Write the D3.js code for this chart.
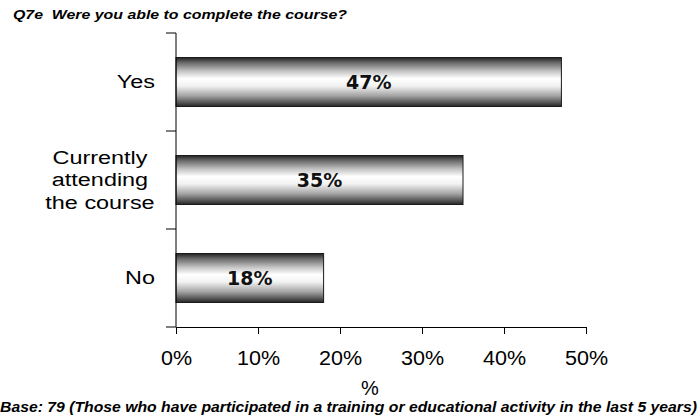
<!DOCTYPE html>
<html>
<head>
<meta charset="utf-8">
<script src="https://cdn.jsdelivr.net/npm/d3@7"></script>
<style>
  html, body { margin: 0; padding: 0; background: #fff; }
  svg { display: block; font-family: "Liberation Sans", Arial, sans-serif; }
</style>
</head>
<body>
<svg id="chart" width="700" height="419"></svg>
<script>
// Answers to Q7e, shown top to bottom
const categories = [["Yes"], ["Currently", "attending", "the course"], ["No"]];
const categoryKeys = ["Yes", "Currently attending the course", "No"];
const values = [47, 35, 18];
const tickValues = [0, 10, 20, 30, 40, 50];

const svg = d3.select("#chart");
const margin = { left: 176, right: 114, top: 33, bottom: 92 };
const W = 700, H = 419;

const x = d3.scaleLinear().domain([0, 50]).range([margin.left, W - margin.right]);
const y = d3.scaleBand().domain(categoryKeys).range([margin.top, H - margin.bottom]).paddingInner(0.5).paddingOuter(0.25);

// Widen text horizontally by factor k
function stretch(sel, k) {
  sel.each(function () {
    const w = this.getComputedTextLength();
    d3.select(this).attr("textLength", w * k).attr("lengthAdjust", "spacingAndGlyphs");
  });
}

// Metallic vertical gradient for the bars
const defs = svg.append("defs");
const grad = defs.append("linearGradient").attr("id", "barGrad")
  .attr("x1", 0).attr("y1", 0).attr("x2", 0).attr("y2", 1);
[[0, "#222222"], [0.1, "#666666"], [0.28, "#c4c4c4"], [0.43, "#ffffff"], [0.58, "#f2f2f2"], [0.78, "#a4a4a4"], [0.92, "#555555"], [1, "#262626"]]
  .forEach(([o, c]) => grad.append("stop").attr("offset", o).attr("stop-color", c));

// Title
svg.append("text").attr("x", 13).attr("y", 19)
  .attr("font-size", 12.5).attr("font-weight", "bold").attr("font-style", "italic")
  .attr("xml:space", "preserve")
  .text("Q7e  Were you able to complete the course?")
  .attr("textLength", 334).attr("lengthAdjust", "spacingAndGlyphs");

// Bars
svg.selectAll("rect.bar").data(values).join("rect")
  .attr("class", "bar")
  .attr("x", x(0))
  .attr("y", (d, i) => y(categoryKeys[i]))
  .attr("width", d => x(d) - x(0))
  .attr("height", y.bandwidth())
  .attr("fill", "url(#barGrad)")
  .attr("stroke", "#1a1a1a").attr("stroke-width", 1);

// Value labels
svg.selectAll("text.val").data(values).join("text")
  .attr("class", "val")
  .attr("x", d => (x(0) + x(d)) / 2)
  .attr("y", (d, i) => y(categoryKeys[i]) + y.bandwidth() / 2)
  .attr("dy", "0.37em")
  .attr("text-anchor", "middle")
  .attr("font-family", "'DejaVu Sans', sans-serif")
  .attr("font-size", 19).attr("font-weight", "bold").attr("fill", "#111")
  .text(d => d + "%");

// Y axis line and category separators
const yAxis = svg.append("g");
yAxis.append("line").attr("x1", x(0)).attr("x2", x(0))
  .attr("y1", margin.top).attr("y2", H - margin.bottom).attr("stroke", "#000");
const boundaries = d3.range(categoryKeys.length + 1).map(i => margin.top + i * (H - margin.top - margin.bottom) / categoryKeys.length);
yAxis.selectAll("line.tick").data(boundaries).join("line")
  .attr("class", "tick")
  .attr("x1", x(0) - 10).attr("x2", x(0))
  .attr("y1", d => d).attr("y2", d => d).attr("stroke", "#000");

// Category labels
categories.forEach((lines, i) => {
  const cy = y(categoryKeys[i]) + y.bandwidth() / 2;
  const lh = 22.5;
  const multi = lines.length > 1;
  lines.forEach((ln, j) => {
    svg.append("text")
      .attr("font-size", 18).attr("fill", "#000")
      .attr("text-anchor", multi ? "middle" : "end")
      .attr("x", multi ? 100 : 155)
      .attr("y", cy + (j - (lines.length - 1) / 2) * lh)
      .attr("dy", "0.36em")
      .text(ln)
      .call(stretch, 1.3);
  });
});

// X axis
const xAxisG = svg.append("g").attr("transform", `translate(0,${H - margin.bottom})`)
  .call(d3.axisBottom(x).tickValues(tickValues).tickFormat(d => d + "%").tickSize(7).tickPadding(16));
xAxisG.select(".domain").attr("stroke", "#000").attr("d", `M${x(0)},0.5H${x(50)}`);
xAxisG.selectAll(".tick line").attr("stroke", "#000");
xAxisG.selectAll(".tick text")
  .attr("font-size", 20.5).attr("font-family", "Liberation Sans, Arial, sans-serif").attr("fill", "#000")
  .call(stretch, 1.05);

// Axis title
svg.append("text").attr("x", 370).attr("y", 395)
  .attr("text-anchor", "middle").attr("font-size", 20).text("%");

// Base note
svg.append("text").attr("x", 0).attr("y", 412)
  .attr("font-size", 14).attr("font-weight", "bold").attr("font-style", "italic")
  .text("Base: 79 (Those who have participated in a training or educational activity in the last 5 years)")
  .attr("textLength", 697).attr("lengthAdjust", "spacingAndGlyphs");
</script>
</body>
</html>
